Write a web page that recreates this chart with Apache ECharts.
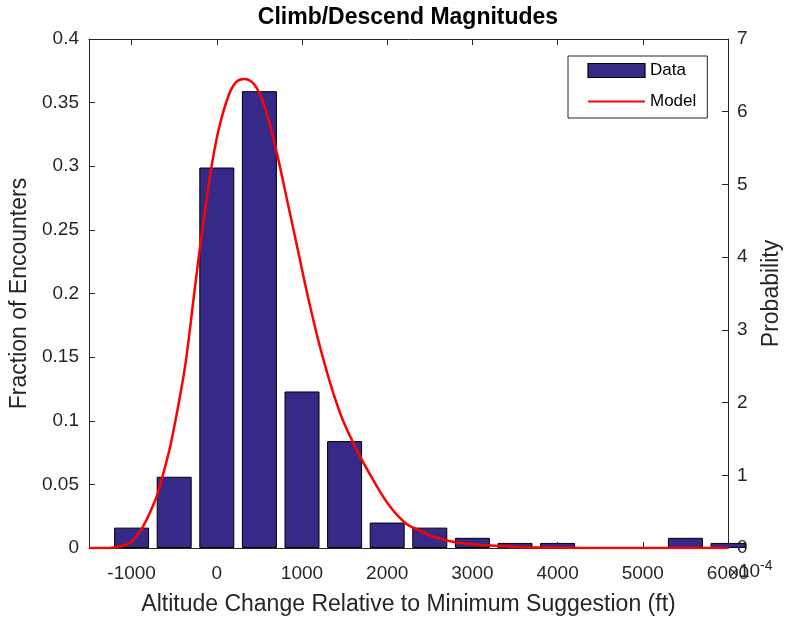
<!DOCTYPE html>
<html>
<head>
<meta charset="utf-8">
<script src="https://cdn.jsdelivr.net/npm/echarts@6/dist/echarts.min.js"></script>
<style>
html,body{margin:0;padding:0;background:#fff;}
#chart{width:785px;height:617px;}
</style>
</head>
<body>
<div id="chart"></div>
<script>
// Histogram bin centres (ft) and fraction of encounters
var binCenters = [-1000, -500, 0, 500, 1000, 1500, 2000, 2500, 3000, 3500, 4000, 4500, 5000, 5500, 6000];
var fractions  = [0.016, 0.056, 0.299, 0.359, 0.123, 0.084, 0.020, 0.016, 0.008, 0.004, 0.004, 0, 0, 0.008, 0.004];

// Model curve: x (ft) and probability (units of 1e-4)
var modelX = [-1500, -1300, -1200, -1100, -1024, -950, -868, -780, -693, -634, -560, -499, -430, -362, -265, -187, -130, -70, 27, 144, 230, 319, 436, 553, 689, 826, 962, 1098, 1254, 1449, 1643, 1838, 2033, 2227, 2383, 2461, 2617, 2800, 3123, 3500, 4000, 4500, 6000];
var modelP = [0, 0, 0.01, 0.03, 0.07, 0.15, 0.29, 0.5, 0.75, 1.0, 1.33, 1.67, 2.1, 2.58, 3.5, 4.23, 4.7, 5.19, 5.78, 6.24, 6.41, 6.45, 6.38, 6.10, 5.51, 4.78, 4.04, 3.31, 2.58, 1.85, 1.35, 0.93, 0.57, 0.33, 0.24, 0.19, 0.13, 0.08, 0.04, 0.015, 0.005, 0, 0];

var xTicks = [-1000, 0, 1000, 2000, 3000, 4000, 5000, 6000];
var leftTitle = 'Fraction of Encounters';
var rightTitle = 'Probability';
var xTitle = 'Altitude Change Relative to Minimum Suggestion (ft)';
var chartTitle = 'Climb/Descend Magnitudes';

var barData = binCenters.map(function (x, i) { return [x, fractions[i]]; });
var lineData = modelX.map(function (x, i) { return [x, modelP[i]]; });

var FONT = 'Liberation Sans, Arial, Helvetica, sans-serif';
var AX = '#262626';

var chart = echarts.init(document.getElementById('chart'));
chart.setOption({
  animation: false,
  backgroundColor: '#fff',
  textStyle: { fontFamily: FONT },
  title: {
    text: chartTitle,
    left: 408, top: 6, textAlign: 'center', padding: 0,
    textStyle: { fontFamily: FONT, fontSize: 23, fontWeight: 'bold', color: '#000' }
  },
  grid: { left: 89, right: 57, top: 39, bottom: 69, containLabel: false, outerBoundsMode: 'none' },
  legend: {
    orient: 'vertical',
    left: 568, top: 56,
    padding: [6, 11, 8, 19],
    itemGap: 14,
    itemWidth: 57, itemHeight: 14,
    borderColor: AX, borderWidth: 1, backgroundColor: '#fff',
    textStyle: { fontFamily: FONT, fontSize: 17, color: '#000' },
    data: [
      { name: 'Data', icon: 'rect', itemStyle: { borderWidth: 1.2 } },
      { name: 'Model', itemStyle: { opacity: 0 } }
    ]
  },
  xAxis: [{
    type: 'value', position: 'bottom',
    min: -1500, max: 6000,
    name: xTitle, nameLocation: 'middle', nameGap: 45,
    nameTextStyle: { fontFamily: FONT, fontSize: 23, color: AX },
    axisLine: { show: true, onZero: false, lineStyle: { color: AX, width: 1 } },
    axisTick: { show: true, inside: true, length: 6, customValues: xTicks, lineStyle: { color: AX } },
    axisLabel: {
      customValues: xTicks, fontFamily: FONT, fontSize: 19, color: AX, margin: 16,
      formatter: function (v) { return String(v); }
    },
    splitLine: { show: false }
  }, {
    type: 'value', position: 'top',
    min: -1500, max: 6000,
    axisLine: { show: true, onZero: false, lineStyle: { color: AX, width: 1 } },
    axisTick: { show: true, inside: true, length: 6, customValues: xTicks, lineStyle: { color: AX } },
    axisLabel: { show: false },
    splitLine: { show: false }
  }],
  yAxis: [{
    type: 'value', position: 'left',
    min: 0, max: 0.4, interval: 0.05,
    name: leftTitle, nameLocation: 'middle', nameGap: 51,
    nameTextStyle: { fontFamily: FONT, fontSize: 23, color: AX },
    axisLine: { show: true, onZero: false, lineStyle: { color: AX, width: 1 } },
    axisTick: { show: true, inside: true, length: 6, lineStyle: { color: AX } },
    axisLabel: { fontFamily: FONT, fontSize: 19, color: AX, margin: 10 },
    splitLine: { show: false }
  }, {
    type: 'value', position: 'right',
    min: 0, max: 7, interval: 1,
    name: rightTitle, nameLocation: 'middle', nameGap: 32,
    nameTextStyle: { fontFamily: FONT, fontSize: 23, color: AX },
    axisLine: { show: true, onZero: false, lineStyle: { color: AX, width: 1 } },
    axisTick: { show: true, inside: true, length: 6, lineStyle: { color: AX } },
    axisLabel: { fontFamily: FONT, fontSize: 19, color: AX, margin: 9 },
    splitLine: { show: false }
  }],
  graphic: [{
    type: 'text', left: 729, top: 559, z: 10,
    style: {
      text: '{x|×}{b|10}{s|-4}',
      rich: {
        x: { fontFamily: FONT, fontSize: 17, fill: AX, padding: [8, 0, 0, 0] },
        b: { fontFamily: FONT, fontSize: 19, fill: AX, padding: [6, 0, 0, 0] },
        s: { fontFamily: FONT, fontSize: 14, fill: AX, padding: [0, 0, 6, 0] }
      }
    }
  }],
  series: [{
    name: 'Data', type: 'bar',
    xAxisIndex: 0, yAxisIndex: 0,
    barWidth: 35,
    itemStyle: { color: '#352A87', borderColor: '#000', borderWidth: 1 },
    data: barData, z: 2
  }, {
    name: 'Model', type: 'line',
    xAxisIndex: 0, yAxisIndex: 1,
    smooth: 0.4,
    symbol: 'none', showSymbol: false,
    lineStyle: { color: '#FF0000', width: 2.5 },
    itemStyle: { color: '#FF0000' },
    data: lineData, z: 5
  }]
});
</script>
</body>
</html>
